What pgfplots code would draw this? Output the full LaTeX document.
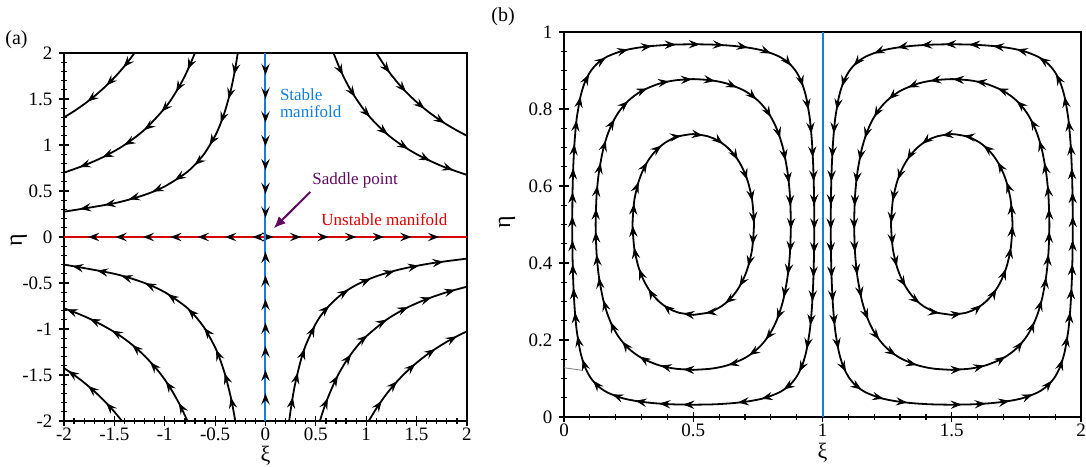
\documentclass[border=0pt]{standalone}
\usepackage{fontspec}
\setmainfont{Liberation Serif}
\usepackage{pgfplots}
\usepackage{pgfplotstable}
\pgfplotsset{compat=1.18}
\usetikzlibrary{arrows.meta,decorations.markings}
\definecolor{manblue}{RGB}{20,125,220}
\definecolor{manred}{RGB}{215,0,0}
\definecolor{saddle}{RGB}{95,10,95}
\tikzset{
  fa/.style={postaction={decorate},
    decoration={markings, mark=between positions #1 with {\arrow{Stealth[length=5.6pt,width=4.2pt,inset=2.1pt,color=black]}}}},
}
\pgfplotsset{
  panel/.style={
    scale only axis,
    tick align=center, xtick pos=bottom, ytick pos=left,
    major tick length=4.6pt, minor tick length=2.6pt,
    every tick/.style={black, line width=0.6pt},
    axis line style={line width=0.8pt},
    tick label style={font=\fontsize{9.5}{11}\selectfont},
    xticklabel style={inner sep=1pt},
    /pgf/number format/assume math mode=true,
    xlabel style={font=\fontsize{11}{13}\selectfont, anchor=north, inner sep=0pt},
    ylabel style={font=\fontsize{12}{14}\selectfont, anchor=center},
  },
  curve/.style={black, line width=0.9pt, smooth},
  arr/.style={draw=none, fa={#1}},
}
% ---- panel (a): streamlines (xi, eta)
\pgfplotstableread{
x y
-1.3 2
-1.4 1.857
-1.5 1.733
-1.6 1.625
-1.7 1.529
-1.8 1.444
-1.9 1.368
-2 1.3
}\ulA
\pgfplotstableread{
x y
-0.7 2
-0.8 1.75
-0.9 1.556
-1 1.4
-1.2 1.167
-1.4 1
-1.6 0.875
-1.8 0.778
-2 0.7
}\ulB
\pgfplotstableread{
x y
-0.275 2
-0.3 1.833
-0.325 1.692
-0.35 1.571
-0.4 1.375
-0.45 1.222
-0.5 1.1
-0.6 0.917
-0.7 0.786
-0.8 0.688
-1 0.55
-1.2 0.458
-1.5 0.367
-2 0.275
}\ulC
\pgfplotstableread{
x y
0.675 2
0.75 1.8
0.85 1.588
1 1.35
1.15 1.174
1.3 1.038
1.5 0.9
1.75 0.771
2 0.675
}\urA
\pgfplotstableread{
x y
1.1 2
1.2 1.833
1.3 1.692
1.4 1.571
1.5 1.467
1.6 1.375
1.7 1.294
1.8 1.222
1.9 1.158
2 1.1
}\urB
\pgfplotstableread{
x y
-0.3 -2
-0.325 -1.846
-0.35 -1.714
-0.4 -1.5
-0.45 -1.333
-0.5 -1.2
-0.6 -1
-0.7 -0.857
-0.8 -0.75
-1 -0.6
-1.2 -0.5
-1.5 -0.4
-2 -0.3
}\llA
\pgfplotstableread{
x y
-0.775 -2
-0.85 -1.824
-0.95 -1.632
-1.05 -1.476
-1.2 -1.292
-1.35 -1.148
-1.5 -1.033
-1.7 -0.912
-1.85 -0.838
-2 -0.775
}\llB
\pgfplotstableread{
x y
-1.425 -2
-1.5 -1.9
-1.6 -1.781
-1.7 -1.676
-1.8 -1.583
-1.9 -1.5
-2 -1.425
}\llC
\pgfplotstableread{
x y
0.235 -2
0.25 -1.88
0.275 -1.709
0.3 -1.567
0.35 -1.343
0.4 -1.175
0.5 -0.94
0.6 -0.783
0.75 -0.627
0.9 -0.522
1.1 -0.427
1.35 -0.348
1.65 -0.285
2 -0.235
}\lrA
\pgfplotstableread{
x y
0.54 -2
0.6 -1.8
0.7 -1.543
0.8 -1.35
0.9 -1.2
1 -1.08
1.2 -0.9
1.4 -0.771
1.6 -0.675
1.8 -0.6
2 -0.54
}\lrB
\pgfplotstableread{
x y
1.025 -2
1.1 -1.864
1.2 -1.708
1.3 -1.577
1.4 -1.464
1.5 -1.367
1.6 -1.281
1.7 -1.206
1.8 -1.139
1.9 -1.079
2 -1.025
}\lrC
% ---- panel (b): closed streamlines of the left cell (clockwise)
\pgfplotstableread{
x y
0.5 0.26517
0.44491 0.27066
0.42228 0.27610
0.39068 0.28773
0.36672 0.30056
0.34685 0.31450
0.32974 0.32974
0.31450 0.34685
0.30056 0.36672
0.28773 0.39068
0.27610 0.42228
0.27066 0.44491
0.26517 0.5
0.27066 0.55509
0.27610 0.57772
0.28773 0.60932
0.30056 0.63328
0.31450 0.65315
0.32974 0.67026
0.34685 0.68550
0.36672 0.69944
0.39068 0.71227
0.42228 0.72390
0.44491 0.72934
0.5 0.73483
0.55509 0.72934
0.57772 0.72390
0.60932 0.71227
0.63328 0.69944
0.65315 0.68550
0.67026 0.67026
0.68550 0.65315
0.69944 0.63328
0.71227 0.60932
0.72390 0.57772
0.72934 0.55509
0.73483 0.5
0.72934 0.44491
0.72390 0.42228
0.71227 0.39068
0.69944 0.36672
0.68550 0.34685
0.67026 0.32974
0.65315 0.31450
0.63328 0.30056
0.60932 0.28773
0.57772 0.27610
0.55509 0.27066
0.5 0.26517
}\Lin
\pgfplotstableread{
x y
0.5 0.12236
0.43716 0.12503
0.40112 0.12885
0.36139 0.13570
0.30708 0.15078
0.26768 0.16789
0.23616 0.18731
0.20978 0.20978
0.18731 0.23616
0.16789 0.26768
0.15078 0.30708
0.13570 0.36139
0.12885 0.40112
0.12503 0.43716
0.12236 0.5
0.12503 0.56284
0.12885 0.59888
0.13570 0.63861
0.15078 0.69292
0.16789 0.73232
0.18731 0.76384
0.20978 0.79022
0.23616 0.81269
0.26768 0.83211
0.30708 0.84922
0.36139 0.86430
0.40112 0.87115
0.43716 0.87497
0.5 0.87764
0.56284 0.87497
0.59888 0.87115
0.63861 0.86430
0.69292 0.84922
0.73232 0.83211
0.76384 0.81269
0.79022 0.79022
0.81269 0.76384
0.83211 0.73232
0.84922 0.69292
0.86430 0.63861
0.87115 0.59888
0.87497 0.56284
0.87764 0.5
0.87497 0.43716
0.87115 0.40112
0.86430 0.36139
0.84922 0.30708
0.83211 0.26768
0.81269 0.23616
0.79022 0.20978
0.76384 0.18731
0.73232 0.16789
0.69292 0.15078
0.63861 0.13570
0.59888 0.12885
0.56284 0.12503
0.5 0.12236
}\Lmid
\pgfplotstableread{
x y
0.5 0.03188
0.43197 0.03263
0.40415 0.03339
0.35019 0.03579
0.29222 0.04018
0.25038 0.04511
0.21729 0.05066
0.16710 0.06395
0.13030 0.08082
0.10242 0.10242
0.08082 0.13030
0.06395 0.16710
0.05066 0.21729
0.04511 0.25038
0.04018 0.29222
0.03579 0.35019
0.03339 0.40415
0.03263 0.43197
0.03188 0.5
0.03263 0.56803
0.03339 0.59585
0.03579 0.64981
0.04018 0.70778
0.04511 0.74962
0.05066 0.78271
0.06395 0.83290
0.08082 0.86970
0.10242 0.89758
0.13030 0.91918
0.16710 0.93605
0.21729 0.94934
0.25038 0.95489
0.29222 0.95982
0.35019 0.96421
0.40415 0.96661
0.43197 0.96737
0.5 0.96812
0.56803 0.96737
0.59585 0.96661
0.64981 0.96421
0.70778 0.95982
0.74962 0.95489
0.78271 0.94934
0.83290 0.93605
0.86970 0.91918
0.89758 0.89758
0.91918 0.86970
0.93605 0.83290
0.94934 0.78271
0.95489 0.74962
0.95982 0.70778
0.96421 0.64981
0.96661 0.59585
0.96737 0.56803
0.96812 0.5
0.96737 0.43197
0.96661 0.40415
0.96421 0.35019
0.95982 0.29222
0.95489 0.25038
0.94934 0.21729
0.93605 0.16710
0.91918 0.13030
0.89758 0.10242
0.86970 0.08082
0.83290 0.06395
0.78271 0.05066
0.74962 0.04511
0.70778 0.04018
0.64981 0.03579
0.59585 0.03339
0.56803 0.03263
0.5 0.03188
}\Lout
% ---- right cell (counter-clockwise)
\pgfplotstableread{
x y
1.5 0.26517
1.55509 0.27066
1.57772 0.27610
1.60932 0.28773
1.63328 0.30056
1.65315 0.31450
1.67026 0.32974
1.68550 0.34685
1.69944 0.36672
1.71227 0.39068
1.72390 0.42228
1.72934 0.44491
1.73483 0.5
1.72934 0.55509
1.72390 0.57772
1.71227 0.60932
1.69944 0.63328
1.68550 0.65315
1.67026 0.67026
1.65315 0.68550
1.63328 0.69944
1.60932 0.71227
1.57772 0.72390
1.55509 0.72934
1.5 0.73483
1.44491 0.72934
1.42228 0.72390
1.39068 0.71227
1.36672 0.69944
1.34685 0.68550
1.32974 0.67026
1.31450 0.65315
1.30056 0.63328
1.28773 0.60932
1.27610 0.57772
1.27066 0.55509
1.26517 0.5
1.27066 0.44491
1.27610 0.42228
1.28773 0.39068
1.30056 0.36672
1.31450 0.34685
1.32974 0.32974
1.34685 0.31450
1.36672 0.30056
1.39068 0.28773
1.42228 0.27610
1.44491 0.27066
1.5 0.26517
}\Rin
\pgfplotstableread{
x y
1.5 0.12236
1.56284 0.12503
1.59888 0.12885
1.63861 0.13570
1.69292 0.15078
1.73232 0.16789
1.76384 0.18731
1.79022 0.20978
1.81269 0.23616
1.83211 0.26768
1.84922 0.30708
1.86430 0.36139
1.87115 0.40112
1.87497 0.43716
1.87764 0.5
1.87497 0.56284
1.87115 0.59888
1.86430 0.63861
1.84922 0.69292
1.83211 0.73232
1.81269 0.76384
1.79022 0.79022
1.76384 0.81269
1.73232 0.83211
1.69292 0.84922
1.63861 0.86430
1.59888 0.87115
1.56284 0.87497
1.5 0.87764
1.43716 0.87497
1.40112 0.87115
1.36139 0.86430
1.30708 0.84922
1.26768 0.83211
1.23616 0.81269
1.20978 0.79022
1.18731 0.76384
1.16789 0.73232
1.15078 0.69292
1.13570 0.63861
1.12885 0.59888
1.12503 0.56284
1.12236 0.5
1.12503 0.43716
1.12885 0.40112
1.13570 0.36139
1.15078 0.30708
1.16789 0.26768
1.18731 0.23616
1.20978 0.20978
1.23616 0.18731
1.26768 0.16789
1.30708 0.15078
1.36139 0.13570
1.40112 0.12885
1.43716 0.12503
1.5 0.12236
}\Rmid
\pgfplotstableread{
x y
1.5 0.03188
1.56803 0.03263
1.59585 0.03339
1.64981 0.03579
1.70778 0.04018
1.74962 0.04511
1.78271 0.05066
1.83290 0.06395
1.86970 0.08082
1.89758 0.10242
1.91918 0.13030
1.93605 0.16710
1.94934 0.21729
1.95489 0.25038
1.95982 0.29222
1.96421 0.35019
1.96661 0.40415
1.96737 0.43197
1.96812 0.5
1.96737 0.56803
1.96661 0.59585
1.96421 0.64981
1.95982 0.70778
1.95489 0.74962
1.94934 0.78271
1.93605 0.83290
1.91918 0.86970
1.89758 0.89758
1.86970 0.91918
1.83290 0.93605
1.78271 0.94934
1.74962 0.95489
1.70778 0.95982
1.64981 0.96421
1.59585 0.96661
1.56803 0.96737
1.5 0.96812
1.43197 0.96737
1.40415 0.96661
1.35019 0.96421
1.29222 0.95982
1.25038 0.95489
1.21729 0.94934
1.16710 0.93605
1.13030 0.91918
1.10242 0.89758
1.08082 0.86970
1.06395 0.83290
1.05066 0.78271
1.04511 0.74962
1.04018 0.70778
1.03579 0.64981
1.03339 0.59585
1.03263 0.56803
1.03188 0.5
1.03263 0.43197
1.03339 0.40415
1.03579 0.35019
1.04018 0.29222
1.04511 0.25038
1.05066 0.21729
1.06395 0.16710
1.08082 0.13030
1.10242 0.10242
1.13030 0.08082
1.16710 0.06395
1.21729 0.05066
1.25038 0.04511
1.29222 0.04018
1.35019 0.03579
1.40415 0.03339
1.43197 0.03263
1.5 0.03188
}\Rout
\begin{document}
\begin{tikzpicture}
\useasboundingbox (0,0) rectangle (543pt,233pt);
\node[font=\fontsize{10}{12}\selectfont] at (8.25pt,213.25pt) {(a)};
\node[font=\fontsize{10}{12}\selectfont] at (251.5pt,224.75pt) {(b)};
% ---------------- panel (a)
\begin{axis}[panel, at={(32pt,22.5pt)}, anchor=south west,
  width=201.5pt, height=184pt,
  xmin=-2, xmax=2, ymin=-2, ymax=2,
  xtick={-2,-1.5,-1,-0.5,0,0.5,1,1.5,2},
  ytick={-2,-1.5,-1,-0.5,0,0.5,1,1.5,2},
  minor x tick num=4, minor y tick num=4,
  xlabel={ξ}, ylabel={η},
  xlabel style={at={(axis description cs:0.5,-0.068)}},
  ylabel style={at={(axis description cs:-0.112,0.492)}},
]
\addplot[curve] table {\ulA}; \addplot[arr={9pt and 45pt step 12.5pt}] table {\ulA};
\addplot[curve] table {\ulB}; \addplot[arr={9pt and 90pt step 12.5pt}] table {\ulB};
\addplot[curve] table {\ulC}; \addplot[arr={11pt and 140pt step 12.5pt}] table {\ulC};
\addplot[curve] table {\urA}; \addplot[arr={12pt and 95pt step 12.5pt}] table {\urA};
\addplot[curve] table {\urB}; \addplot[arr={12pt and 60pt step 12.5pt}] table {\urB};
\addplot[curve] table {\llA}; \addplot[arr={12pt and 140pt step 12.5pt}] table {\llA};
\addplot[curve] table {\llB}; \addplot[arr={10pt and 95pt step 12.5pt}] table {\llB};
\addplot[curve] table {\llC}; \addplot[arr={12pt and 40pt step 12.5pt}] table {\llC};
\addplot[curve] table {\lrA}; \addplot[arr={12pt and 140pt step 12.5pt}] table {\lrA};
\addplot[curve] table {\lrB}; \addplot[arr={12pt and 100pt step 12.5pt}] table {\lrB};
\addplot[curve] table {\lrC}; \addplot[arr={12pt and 65pt step 12.5pt}] table {\lrC};
% manifolds
\addplot[manred, line width=1pt, fa={6.5pt and 95pt step 13.7pt}] coordinates {(0,0) (-2,0)};
\addplot[manred, line width=1pt, fa={4pt and 90pt step 13.8pt}] coordinates {(0,0) (2,0)};
\addplot[manblue, line width=1pt, fa={11pt and 85pt step 11.9pt}] coordinates {(0,2) (0,0)};
\addplot[manblue, line width=1pt, fa={13.8pt and 85pt step 11.8pt}] coordinates {(0,-2) (0,0)};
% annotations
\node[manblue, anchor=base west, inner sep=0pt, font=\fontsize{8.5}{9}\selectfont] at (axis cs:0.14,1.489) {Stable};
\node[manblue, anchor=base west, inner sep=0pt, font=\fontsize{8.5}{9}\selectfont] at (axis cs:0.14,1.304) {manifold};
\node[saddle, anchor=base west, inner sep=0pt, font=\fontsize{8.5}{9}\selectfont] at (axis cs:0.462,0.576) {Saddle point};
\node[manred, anchor=base west, inner sep=0pt, font=\fontsize{8.5}{9}\selectfont] at (axis cs:0.551,0.13) {Unstable manifold};
\draw[saddle, line width=1pt, -{Latex[length=6pt,width=5pt]}] (axis cs:0.445,0.49) -- (axis cs:0.081,0.094);
\end{axis}
% ---------------- panel (b)
\begin{axis}[panel, at={(282pt,24.5pt)}, anchor=south west,
  width=258.5pt, height=192.5pt,
  xmin=0, xmax=2, ymin=0, ymax=1,
  xtick={0,0.5,1,1.5,2}, ytick={0,0.2,0.4,0.6,0.8,1},
  minor x tick num=4, minor y tick num=3,
  xlabel={ξ}, ylabel={η},
  xlabel style={at={(axis description cs:0.5,-0.066)}},
  ylabel style={at={(axis description cs:-0.110,0.506)}},
]
\addplot[manblue, line width=1pt] coordinates {(1,0) (1,1)};
\addplot[gray, line width=0.4pt] coordinates {(0,0.128) (0.073,0.121)};
\addplot[curve] table {\Lin};  \addplot[arr={5pt and 0.98 step 11pt}] table {\Lin};
\addplot[curve] table {\Lmid}; \addplot[arr={5pt and 0.98 step 11.5pt}] table {\Lmid};
\addplot[curve] table {\Lout}; \addplot[arr={5pt and 0.98 step 12pt}] table {\Lout};
\addplot[curve] table {\Rin};  \addplot[arr={5pt and 0.98 step 11pt}] table {\Rin};
\addplot[curve] table {\Rmid}; \addplot[arr={5pt and 0.98 step 11.5pt}] table {\Rmid};
\addplot[curve] table {\Rout}; \addplot[arr={5pt and 0.98 step 12pt}] table {\Rout};
\end{axis}
\end{tikzpicture}
\end{document}
